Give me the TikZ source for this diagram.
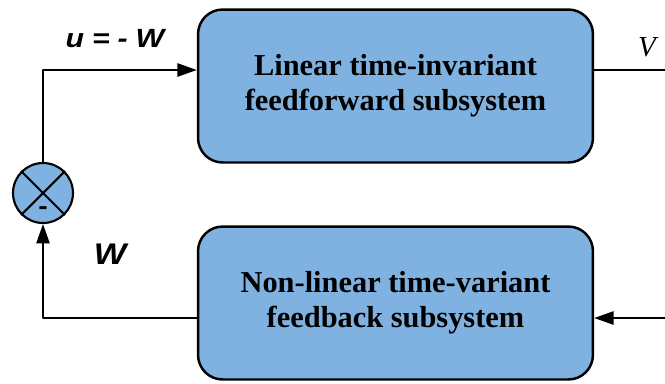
\documentclass[tikz,border=0pt]{standalone}
\usepackage{fontspec}
\setmainfont{Liberation Serif}
\newfontfamily\labelfont[FakeStretch=1.15]{Liberation Sans}
\usetikzlibrary{arrows.meta}
\definecolor{boxblue}{RGB}{127,178,224}
\tikzset{
	block/.style={draw,line width=1.4pt,fill=boxblue,rounded corners=14pt,minimum width=7.9cm,minimum height=3.06cm,align=center,font=\fontsize{17.3}{20}\selectfont\bfseries},
	sumnode/.style={draw,line width=1.2pt,fill=boxblue,circle,minimum size=1.2cm,inner sep=0pt},
	sig/.style={font=\fontsize{15}{17}\selectfont\labelfont\bfseries\itshape}
}
\begin{document}
\begin{tikzpicture}[x=0.02cm,y=-0.02cm,line join=round,line width=1.1pt,>={Triangle[length=11pt,width=7.5pt]}]
			\useasboundingbox (0,0) rectangle (665,383);
			\node[block] (ff) at (395.5,86) {Linear time-invariant\\feedforward subsystem};
			\node[block] (fb) at (395.5,303) {Non-linear time-variant\\feedback subsystem};
			\node[sumnode] (sum) at (43,193) {};
			\draw[line width=1.2pt] (sum.north west)--(sum.south east) (sum.north east)--(sum.south west);
			\node[font=\fontsize{14}{14}\selectfont\labelfont\bfseries] (minus) at (43,211) {-};
			\coordinate (vend) at (666,70);
			\coordinate (wend) at (666,318);
			\draw[->] (sum.north) |- (ff.west |- vend);
			\draw (ff.east |- vend)--(vend);
			\draw[->] (wend)--(fb.east |- wend);
			\draw[->] (fb.west |- wend) -| (sum.south);
			\node[sig] (ulabel) at (115,39) {u\hspace{0.3em}=\hspace{0.3em}-\hspace{0.3em}W};
			\node[font=\fontsize{16.5}{18}\selectfont\itshape] (vlabel) at (647,47) {V};
			\node[sig,font=\fontsize{17}{18}\selectfont\labelfont\bfseries\itshape] (wlabel) at (110,254) {W};
		\end{tikzpicture}
\end{document}
